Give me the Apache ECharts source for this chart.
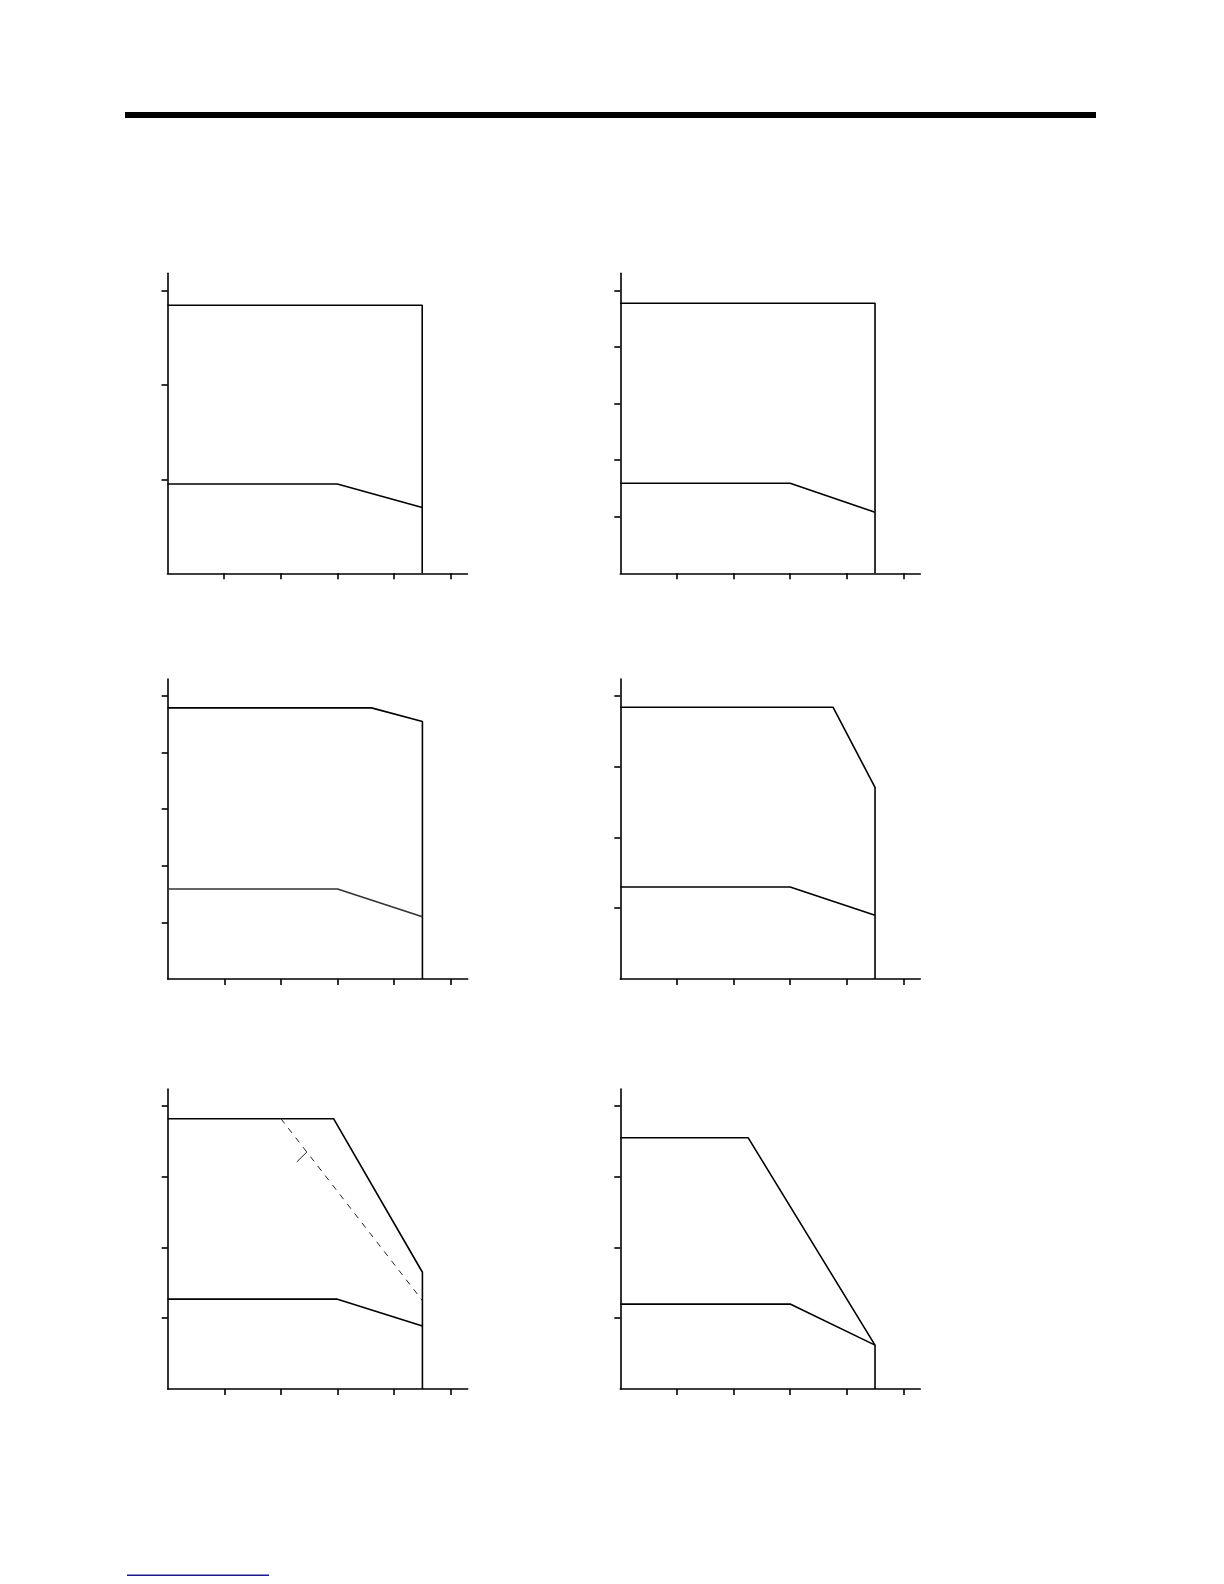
<!DOCTYPE html>
<html>
<head>
<meta charset="utf-8">
<script src="https://cdn.jsdelivr.net/npm/echarts@6/dist/echarts.min.js"></script>
<style>
  html, body { margin: 0; padding: 0; background: #fff; }
  #chart { width: 1224px; height: 1584px; }
</style>
</head>
<body>
<div id="chart"></div>
<script>
// panel layout order: top-left, top-right, mid-left, mid-right, bottom-left, bottom-right
var xMax = [5.3, 5.3, 5.3, 5.3, 5.3, 5.3];
var yMax = [3.19, 5.3, 5.3, 4.24, 4.24, 4.24];
var xTicks = [1, 2, 3, 4, 5];
var yTicks = [
    [1, 2, 3],
    [1, 2, 3, 4, 5],
    [1, 2, 3, 4, 5],
    [1, 2, 3, 4],
    [1, 2, 3, 4],
    [1, 2, 3, 4]
];

// outer curve (ends with the vertical drop at x = 4.5)
var upperCurves = [
    [[0, 2.85], [4.5, 2.85], [4.5, 0]],
    [[0, 4.77], [4.5, 4.77], [4.5, 0]],
    [[0, 4.79], [3.6, 4.79], [4.5, 4.55], [4.5, 0]],
    [[0, 3.84], [3.76, 3.84], [4.5, 2.71], [4.5, 0]],
    [[0, 3.82], [2.93, 3.82], [4.5, 1.65], [4.5, 0]],
    [[0, 3.55], [2.26, 3.55], [4.5, 0.62], [4.5, 0]]
];
// inner curve
var lowerCurves = [
    [[0, 0.95], [3.0, 0.95], [4.5, 0.70]],
    [[0, 1.59], [3.0, 1.59], [4.5, 1.08]],
    [[0, 1.59], [3.0, 1.59], [4.5, 1.10]],
    [[0, 1.30], [3.0, 1.30], [4.5, 0.90]],
    [[0, 1.27], [3.0, 1.27], [4.5, 0.89]],
    [[0, 1.20], [3.0, 1.20], [4.5, 0.62]]
];
// dashed guide + small marker, bottom-left panel only
var dashedGuide = [[2.0, 3.82], [4.5, 1.25]];
var guideMark = [[2.28, 3.21], [2.46, 3.35]];

var panels = [
    {left: 167.5, top: 273.3},
    {left: 620.3, top: 273.3},
    {left: 167.7, top: 679},
    {left: 620.3, top: 679},
    {left: 167.7, top: 1089},
    {left: 620.3, top: 1089}
];

var grid = [], xAxis = [], yAxis = [], series = [];
var axisStyle = {color: '#000', width: 1.6};

panels.forEach(function (p, i) {
    grid.push({left: p.left, top: p.top, width: 300, height: 300});
    xAxis.push({
        type: 'value', gridIndex: i, min: 0, max: xMax[i], interval: 1,
        axisLine: {show: true, lineStyle: axisStyle},
        axisTick: {show: true, length: 6, lineStyle: axisStyle, customValues: xTicks},
        axisLabel: {show: false},
        splitLine: {show: false}
    });
    yAxis.push({
        type: 'value', gridIndex: i, min: 0, max: yMax[i], interval: 1,
        axisLine: {show: true, lineStyle: axisStyle},
        axisTick: {show: true, length: 6, lineStyle: axisStyle, customValues: yTicks[i]},
        axisLabel: {show: false},
        splitLine: {show: false}
    });
    series.push({
        type: 'line', xAxisIndex: i, yAxisIndex: i, data: upperCurves[i],
        showSymbol: false, silent: true, animation: false,
        lineStyle: {color: '#000', width: 1.6}
    });
    series.push({
        type: 'line', xAxisIndex: i, yAxisIndex: i, data: lowerCurves[i],
        showSymbol: false, silent: true, animation: false,
        lineStyle: {color: i === 2 ? '#333' : '#000', width: 1.6}
    });
});

series.push({
    type: 'line', xAxisIndex: 4, yAxisIndex: 4, data: dashedGuide,
    showSymbol: false, silent: true, animation: false,
    lineStyle: {color: '#222', width: 1, type: [6, 6]}
});
series.push({
    type: 'line', xAxisIndex: 4, yAxisIndex: 4, data: guideMark,
    showSymbol: false, silent: true, animation: false,
    lineStyle: {color: '#222', width: 1}
});

var chart = echarts.init(document.getElementById('chart'), null, {renderer: 'canvas'});
chart.setOption({
    backgroundColor: '#fff',
    animation: false,
    grid: grid,
    xAxis: xAxis,
    yAxis: yAxis,
    series: series,
    graphic: [
        // heavy rule across the top of the page
        {type: 'rect', left: 125, top: 112, shape: {width: 971, height: 6}, style: {fill: '#000'}},
        // blue underline at bottom-left
        {type: 'rect', left: 127, top: 1574.5, shape: {width: 142, height: 1.5}, style: {fill: '#1a1a8c'}}
    ]
});
</script>
</body>
</html>
